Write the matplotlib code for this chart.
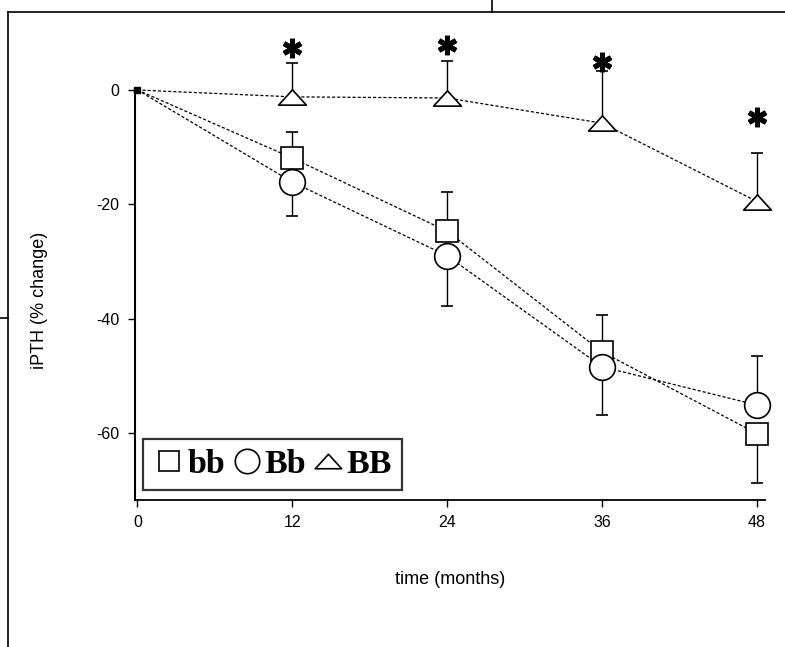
import matplotlib
matplotlib.use("Agg")
import matplotlib.pyplot as plt
from matplotlib.path import Path
from matplotlib.lines import Line2D
import numpy as np

plt.rcParams['font.family'] = ['Liberation Sans', 'DejaVu Sans']

# ---- data ----
months = [0, 12, 24, 36, 48]
x_ticks = [0, 12, 24, 36, 48]
y_ticks = [0, -20, -40, -60]

bb = [0, -11.9, -24.7, -45.8, -60.1]
bb_err_up = [0, 4.6, 6.9, 6.5, 0]
bb_err_dn = [0, 0, 0, 0, 8.6]

Bb = [0, -16.1, -29.0, -48.4, -55.1]
Bb_err_up = [0, 0, 0, 0, 8.6]
Bb_err_dn = [0, 5.9, 8.8, 8.4, 0]

BB = [0, -1.2, -1.4, -5.8, -19.5]
BB_err_up = [0, 6.0, 6.5, 9.1, 8.5]
BB_err_dn = [0, 0, 0, 0, 0]

sig_months = [12, 24, 36, 48]
sig_y = [7.3, 7.9, 4.9, -4.7]

series_labels = ['bb', 'Bb', 'BB']

# ---- figure ----
W, H = 785, 647
fig = plt.figure(figsize=(W / 100, H / 100), dpi=100)
ax_left, ax_right, ax_top, ax_bottom = 135, 765, 20, 500
ax = fig.add_axes([ax_left / W, 1 - ax_bottom / H,
                   (ax_right - ax_left) / W, (ax_bottom - ax_top) / H])

tri = Path([(-1, -0.55), (1, -0.55), (0, 0.55), (-1, -0.55)],
           [Path.MOVETO, Path.LINETO, Path.LINETO, Path.CLOSEPOLY])

dash = (0, (2.5, 1.6))
styles = [
    (bb, bb_err_dn, bb_err_up, 's', 15.5),
    (Bb, Bb_err_dn, Bb_err_up, 'o', 18.5),
    (BB, BB_err_dn, BB_err_up, tri, 20),
]

for i, (vals, edn, eup, mk, ms) in enumerate(styles):
    ax.plot(months, vals, linestyle=dash, color='black', lw=0.9, zorder=2,
            clip_on=False)
    eb = ax.errorbar(months[1:], vals[1:], yerr=[edn[1:], eup[1:]], fmt='none',
                     ecolor='black', elinewidth=1.0, capsize=4.5, capthick=1.2,
                     zorder=3)
    for art in eb.get_children():
        art.set_clip_on(False)
    ax.plot(months[1:], vals[1:], linestyle='none', marker=mk, ms=ms,
            mfc='white', mec='black', mew=1.2, zorder=4 + i, clip_on=False)

ax.plot([0], [0], marker='s', ms=4.5, color='black', zorder=8, clip_on=False)

# significance asterisks
ax.plot(sig_months, sig_y, linestyle='none', marker=(6, 2, 0), ms=14,
        mew=3.6, color='black', zorder=9, clip_on=False)

# axes styling
ax.set_xlim(-0.19, 48.62)
ax.set_ylim(-71.7, 12.24)
ax.set_xticks(x_ticks)
ax.set_yticks(y_ticks)
ax.set_xticklabels([str(t) for t in x_ticks])
ax.set_yticklabels([str(t) for t in y_ticks])
ax.tick_params(direction='out', length=5, width=1, labelsize=11.5, pad=6)
for s in ['top', 'right']:
    ax.spines[s].set_visible(False)
ax.spines['left'].set_bounds(-71.7, 0.4)
ax.spines['left'].set_linewidth(1.5)
ax.spines['bottom'].set_linewidth(1.3)

ax.set_xlabel('time (months)', fontsize=13)
ax.set_ylabel('iPTH (% change)', fontsize=13)
ax.xaxis.set_label_coords((450 - ax_left) / (ax_right - ax_left),
                          (ax_bottom - 580) / (ax_bottom - ax_top))
ax.yaxis.set_label_coords((40 - ax_left) / (ax_right - ax_left),
                          (ax_bottom - 300) / (ax_bottom - ax_top))
ax.xaxis.label.set_va('center')
ax.yaxis.label.set_va('center')

# legend
handles = [Line2D([], [], linestyle='none', marker=mk, ms=ms * 0.95,
                  mfc='white', mec='black', mew=1.2)
           for (_, _, _, mk, ms) in styles]
leg = ax.legend(handles, series_labels, loc='lower left',
                bbox_to_anchor=((143 - ax_left) / (ax_right - ax_left),
                                (ax_bottom - 490) / (ax_bottom - ax_top)),
                borderaxespad=0, ncol=3, frameon=True, fancybox=False,
                handlelength=0.95, handletextpad=0.06, columnspacing=0.15,
                borderpad=0.3,
                prop={'family': 'Liberation Serif', 'weight': 'bold',
                      'size': 24.5})
leg.get_frame().set_edgecolor('black')
leg.get_frame().set_linewidth(1.6)

# scan frame lines around the panel
def fline(xs, ys, lw=1.2):
    fig.add_artist(Line2D([x / W for x in xs], [1 - y / H for y in ys],
                          color='black', lw=lw))

fline([8, 785], [12, 12])
fline([8, 8], [12, 647])
fline([0, 8], [318, 318])
fline([492, 492], [0, 12])

fig.savefig('out.png', dpi=100)
